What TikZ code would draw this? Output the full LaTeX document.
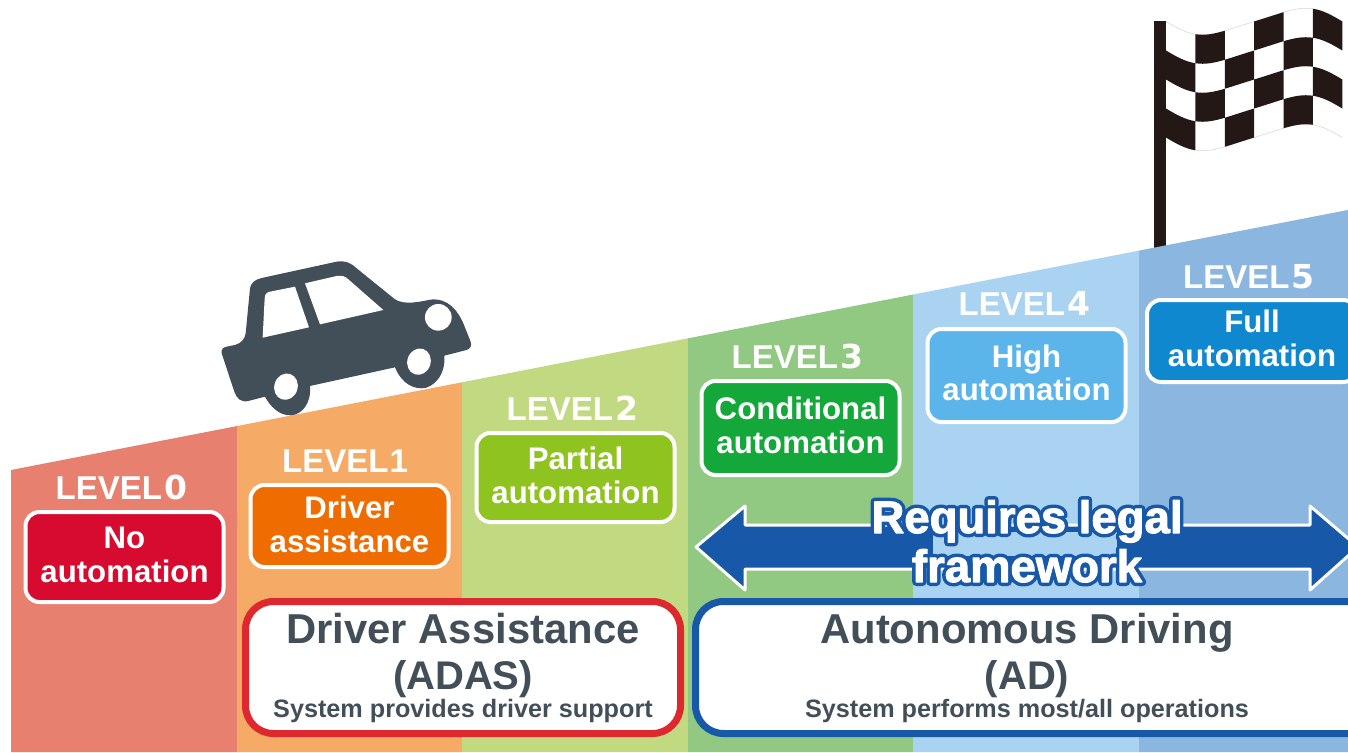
\documentclass[tikz,border=0pt]{standalone}
\usepackage{fontspec}
\setmainfont{Liberation Sans}
\newfontfamily\digitfont{DejaVu Sans}
\definecolor{ink}{HTML}{434F58}
\definecolor{flagblack}{HTML}{231815}
\definecolor{adblue}{HTML}{1858A8}
\definecolor{adasred}{HTML}{DC282E}
\definecolor{stripe0}{HTML}{E8806F}
\definecolor{stripe1}{HTML}{F5AA66}
\definecolor{stripe2}{HTML}{C1DA82}
\definecolor{stripe3}{HTML}{91C882}
\definecolor{stripe4}{HTML}{AAD3F2}
\definecolor{stripe5}{HTML}{8BB6E0}
\definecolor{box0}{HTML}{D60B2F}
\definecolor{box1}{HTML}{EE6C00}
\definecolor{box2}{HTML}{8FC31F}
\definecolor{box3}{HTML}{14A83B}
\definecolor{box4}{HTML}{5BB5EA}
\definecolor{box5}{HTML}{1088D0}
\tikzset{
  levelbox/.style={draw=white,line width=4pt,rounded corners=14pt,inner sep=0pt,
    minimum width=198pt,align=center,text=white,
    font=\fontsize{31.2}{34}\selectfont\bfseries},
  levellabel/.style={text=white,inner sep=0pt,anchor=base,
    font=\fontsize{33}{33}\selectfont},
  groupbox/.style={draw,fill=white,line width=7pt,rounded corners=28pt,inner sep=0pt,minimum height=132pt},
  grouptitle/.style={text=ink,inner sep=0pt,anchor=base,
    font=\fontsize{41.8}{41}\selectfont\bfseries},
  groupsub/.style={text=ink,inner sep=0pt,anchor=base,
    font=\fontsize{40}{41}\selectfont\bfseries},
  groupnote/.style={text=ink,inner sep=0pt,anchor=base,
    font=\fontsize{25.2}{25}\selectfont\bfseries},
  legaltext/.style={text=white,inner sep=0pt,anchor=base,
    font=\fontsize{45.5}{46}\selectfont\bfseries},
  declare function={flagwave(\t)=21.5+12.7*sin(360*\t)+2*sin(720*\t);}
}
\newcommand{\levelword}[1]{\textbf{LEVEL}\hspace{2.5pt}{\digitfont\bfseries #1}}
\newcommand{\boxlines}[3][4pt]{\raisebox{#1}{\shortstack{#2\\[8pt]#3}}}
\newcommand{\legalword}[1]{\rlap{\special{pdf:code q 1 j 1 J 8 w 0.094 0.345 0.659 RG 1 Tr}#1\special{pdf:code Q}}%
  \special{pdf:code q 1 j 1 J 1 w 1 1 1 RG 2 Tr}#1\special{pdf:code Q}}
\begin{document}
\begin{tikzpicture}[x=1pt,y=-1pt]
  \useasboundingbox (0,0) rectangle (1348,752);
  \clip (0,0) rectangle (1348,752);
  % flag
  \fill[flagblack] (1154,21) rectangle (1166,260);
  \draw[gray!35,line width=0.5pt] plot[domain=0:1,samples=40] ({1166+176.3*\x},{flagwave(\x)});
  \draw[gray!35,line width=0.5pt] plot[domain=0:1,samples=40] ({1166+176.3*\x},{flagwave(\x)+116});
  \foreach \col/\row in {1/0,3/0,5/0,0/1,2/1,4/1,1/2,3/2,5/2,0/3,2/3,4/3}
    \fill[flagblack] plot[domain={\col/6}:{(\col+1)/6},samples=9] ({1166+176.3*\x},{flagwave(\x)+29*\row})
      -- plot[domain={(\col+1)/6}:{\col/6},samples=9] ({1166+176.3*\x},{flagwave(\x)+29*(\row+1)}) -- cycle;
  % road stripes
  \foreach \n/\xa/\xb in {0/11/237,1/237/462,2/462/688,3/688/913,4/913/1139,5/1139/1348}
    \fill[stripe\n] (\xa,{470-0.1945*(\xa-11)}) -- (\xb,{470-0.1945*(\xb-11)})
      -- (\xb,752) -- (\xa,752) -- cycle;
  % car
  \begin{scope}[shift={(200,240)},x=0.3333pt,y=-0.3333pt]
    \fill[ink] (65,340) .. controls (62,328) and (70,322) .. (80,320) -- (105,315)
      .. controls (125,310) and (135,295) .. (137,280) -- (150,145)
      .. controls (152,130) and (165,118) .. (185,114) -- (410,65)
      .. controls (435,60) and (455,70) .. (470,85) -- (575,170)
      .. controls (600,195) and (640,190) .. (690,179)
      .. controls (745,172) and (775,215) .. (790,250) -- (812,305)
      .. controls (816,318) and (812,325) .. (800,330) -- (733,347)
      .. controls (738,405) and (700,445) .. (665,445)
      .. controls (625,445) and (598,415) .. (585,382) -- (330,438)
      .. controls (335,490) and (305,525) .. (272,526)
      .. controls (235,527) and (208,495) .. (195,470) -- (145,483)
      .. controls (122,488) and (110,475) .. (103,455) -- cycle;
    \fill[white] (205,156) .. controls (198,158) and (195,165) .. (194,175) -- (188,293)
      -- (327,262) -- (285,140) -- cycle;
    \fill[white] (315,130) -- (360,253) -- (550,210) -- (445,118)
      .. controls (435,108) and (425,106) .. (410,108) -- cycle;
    \fill[white,rotate around={-18:(258,440)}] (258,440) ellipse (35 and 40);
    \fill[white,rotate around={-18:(657,365)}] (657,365) ellipse (35 and 40);
    \fill[white] (715,232) circle (40);
  \end{scope}
  % level labels
  \node[levellabel] (lab0) at (121.5,499) {\levelword{0}};
  \node[levellabel] (lab1) at (345,472) {\textbf{LEVEL}\hspace{1pt}\textbf{1}};
  \node[levellabel] (lab2) at (572.5,420) {\levelword{2}};
  \node[levellabel] (lab3) at (797.5,368) {\levelword{3}};
  \node[levellabel] (lab4) at (1024.5,315) {\levelword{4}};
  \node[levellabel] (lab5) at (1249,288) {\levelword{5}};
  % level boxes
  \node[levelbox,fill=box0,minimum height=90pt] (box0) at (124.5,557) {\boxlines{No}{automation}};
  \node[levelbox,fill=box1,minimum height=82pt] (box1) at (349.5,526) {\boxlines{Driver}{assistance}};
  \node[levelbox,fill=box2,minimum height=89pt] (box2) at (575.5,477.5) {\boxlines{Partial}{automation}};
  \node[levelbox,fill=box3,minimum height=94pt] (box3) at (800.5,428) {\boxlines[6pt]{Conditional}{automation}};
  \node[levelbox,fill=box4,minimum height=93pt] (box4) at (1026.5,375.5) {\boxlines[6pt]{Hi\smash{g}h}{automation}};
  \node[levelbox,fill=box5,minimum height=82pt,minimum width=210pt] (box5) at (1252,341) {\boxlines[5pt]{Full}{automation}};
  % legal arrow
  \filldraw[fill=adblue,draw=white,line width=3pt,line join=round]
    (696,547) -- (745,506) -- (745,525) -- (1310,525) -- (1310,506) -- (1358,547)
    -- (1310,590) -- (1310,569) -- (745,569) -- (745,590) -- cycle;
  \fill[stripe4] (933,532) rectangle (1117,556);
  \node[legaltext] (legal1) at (1027,533) {\legalword{Requires legal}};
  \node[legaltext] (legal2) at (1027,582) {\legalword{framework}};
  % group boxes
  \node[groupbox,draw=adasred,minimum width=435pt] (adas) at (463,667.5) {};
  \node[groupbox,draw=adblue,minimum width=700pt,anchor=west] (ad) at (692,667.5) {};
  \node[grouptitle] (adas1) at (463,643) {Driver Assistance};
  \node[groupsub] (adas2) at (463,689) {(ADAS)};
  \node[groupnote] (adas3) at (463,717) {System provides driver support};
  \node[grouptitle] (ad1) at (1027,643) {Autonomous Driving};
  \node[groupsub] (ad2) at (1027,689) {(AD)};
  \node[groupnote] (ad3) at (1027,717) {System performs most/all operations};
\end{tikzpicture}
\end{document}
